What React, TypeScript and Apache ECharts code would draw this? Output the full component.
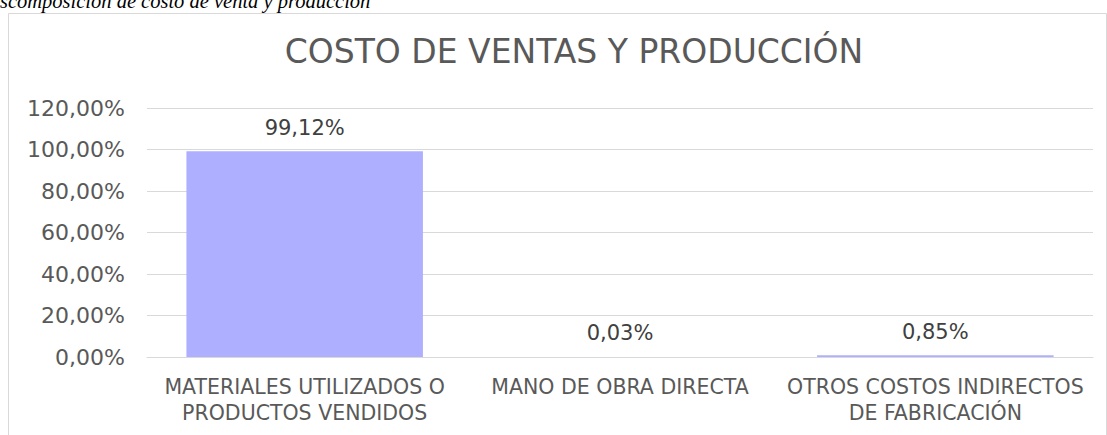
import React, { useEffect, useRef } from "react";
import * as echarts from "echarts";

const categories = [
  "MATERIALES UTILIZADOS O\nPRODUCTOS VENDIDOS",
  "MANO DE OBRA DIRECTA",
  "OTROS COSTOS INDIRECTOS\nDE FABRICACIÓN",
];
const values = [99.12, 0.03, 0.85];
const chartTitle = "COSTO DE VENTAS Y PRODUCCIÓN";
const caption = "Descomposición de costo de venta y producción";

const fmt = (v: number) => v.toFixed(2).replace(".", ",") + "%";
const FONT = "DejaVu Sans";
const GREY = "#595959";

export default function App() {
  const ref = useRef<HTMLDivElement>(null);
  useEffect(() => {
    if (!ref.current) return;
    const chart = echarts.init(ref.current, null, { renderer: "svg" });
    chart.setOption({
      animation: false,
      backgroundColor: "#ffffff",
      title: {
        text: chartTitle,
        left: 569,
        textAlign: "center",
        top: 30,
        textStyle: { fontFamily: FONT, fontSize: 33, fontWeight: "normal", color: GREY },
      },
      graphic: [
        {
          type: "rect",
          shape: { x: 8.5, y: 13.5, width: 1098, height: 440 },
          style: { fill: "none", stroke: "#d9d9d9", lineWidth: 1 },
          silent: true,
        },
        {
          type: "text",
          x: -24,
          y: -9,
          style: {
            text: caption,
            font: "italic 20.5px 'Liberation Serif'",
            fill: "#000000",
          },
        },
      ],
      grid: { left: 147, right: 14, top: 108, bottom: 78 },
      xAxis: {
        type: "category",
        data: categories,
        axisLine: { lineStyle: { color: "#d9d9d9" } },
        axisTick: { show: false },
        axisLabel: {
          color: GREY,
          fontFamily: FONT,
          fontSize: 20.5,
          lineHeight: 26,
          margin: 17,
          interval: 0,
        },
      },
      yAxis: {
        type: "value",
        min: 0,
        max: 120,
        interval: 20,
        axisLine: { show: false },
        axisTick: { show: false },
        splitLine: { lineStyle: { color: "#d9d9d9" } },
        axisLabel: {
          formatter: (v: number) => fmt(v),
          color: GREY,
          fontFamily: FONT,
          fontSize: 22,
          margin: 22,
        },
      },
      series: [
        {
          type: "bar",
          data: values,
          barCategoryGap: "25%",
          itemStyle: { color: "#afafff" },
          label: {
            show: true,
            position: "top",
            distance: 13,
            formatter: (p: any) => fmt(p.value),
            color: "#404040",
            fontFamily: FONT,
            fontSize: 21,
          },
        },
      ],
    });
    return () => chart.dispose();
  }, []);
  return (
    <div
      ref={ref}
      style={{ position: "fixed", left: 0, top: 0, width: 1107, height: 435 }}
    />
  );
}
